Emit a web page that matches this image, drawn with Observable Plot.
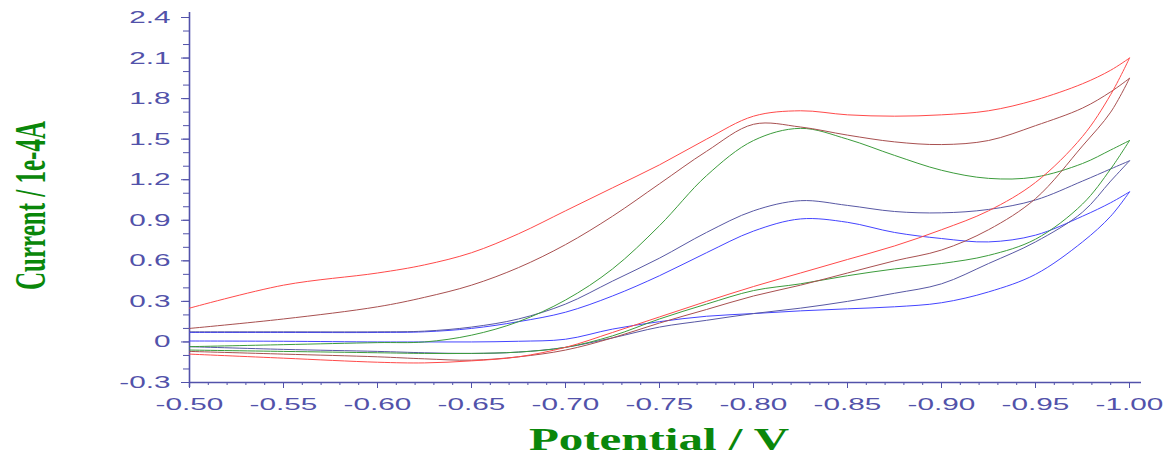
<!DOCTYPE html>
<html>
<head>
<meta charset="utf-8">
<script src="https://cdn.jsdelivr.net/npm/d3@7"></script>
<script src="https://cdn.jsdelivr.net/npm/@observablehq/plot@0.6"></script>
<style>
  body { margin: 0; background: #fff; }
  #chart svg { display: block; }
</style>
</head>
<body>
<div id="chart"></div>
<script>
// Potential grid (V) shared by every scan, from the start of the sweep to the switching potential
const potential = [-0.50, -0.55, -0.60, -0.625, -0.65, -0.675, -0.70, -0.725, -0.75, -0.775,
                   -0.80, -0.825, -0.85, -0.875, -0.90, -0.925, -0.95, -0.975, -0.99, -1.00];

// Current (1e-4 A): forward sweep (towards -1.00 V) and return sweep, both listed on the grid above
const scanAForward = [0.25, 0.42, 0.51, 0.57, 0.66, 0.80, 0.97, 1.14, 1.31, 1.50, 1.67, 1.71, 1.68, 1.67, 1.68, 1.71, 1.79, 1.91, 2.01, 2.10];
const scanAReturn  = [-0.09, -0.12, -0.15, -0.155, -0.14, -0.11, -0.04, 0.07, 0.185, 0.30, 0.41, 0.51, 0.61, 0.71, 0.83, 0.97, 1.18, 1.52, 1.83, 2.10];

const scanBForward = [0.10, 0.17, 0.26, 0.33, 0.42, 0.55, 0.72, 0.93, 1.17, 1.41, 1.61, 1.59, 1.53, 1.48, 1.46, 1.49, 1.60, 1.73, 1.85, 1.95];
const scanBReturn  = [-0.07, -0.09, -0.11, -0.125, -0.135, -0.11, -0.06, 0.03, 0.14, 0.24, 0.34, 0.42, 0.51, 0.60, 0.68, 0.83, 1.06, 1.45, 1.70, 1.95];

const scanCForward = [-0.035, -0.02, -0.005, 0.00, 0.05, 0.15, 0.31, 0.54, 0.86, 1.23, 1.49, 1.58, 1.50, 1.38, 1.27, 1.21, 1.22, 1.32, 1.42, 1.49];
const scanCReturn  = [-0.06, -0.07, -0.08, -0.085, -0.085, -0.075, -0.04, 0.045, 0.17, 0.28, 0.38, 0.43, 0.49, 0.54, 0.58, 0.64, 0.76, 1.02, 1.28, 1.49];

const scanDForward = [0.075, 0.075, 0.075, 0.08, 0.11, 0.17, 0.28, 0.45, 0.62, 0.81, 0.97, 1.045, 1.01, 0.965, 0.955, 0.98, 1.05, 1.19, 1.28, 1.34];
const scanDReturn  = [-0.035, -0.055, -0.07, -0.08, -0.085, -0.075, -0.04, 0.03, 0.11, 0.16, 0.21, 0.25, 0.30, 0.36, 0.43, 0.58, 0.74, 0.96, 1.19, 1.34];

const scanEForward = [0.07, 0.07, 0.07, 0.075, 0.10, 0.15, 0.22, 0.34, 0.49, 0.66, 0.82, 0.91, 0.885, 0.81, 0.765, 0.74, 0.79, 0.93, 1.03, 1.11];
const scanEReturn  = [0.007, 0.005, 0.0, 0.0, 0.0, 0.005, 0.02, 0.095, 0.15, 0.19, 0.21, 0.23, 0.245, 0.26, 0.29, 0.37, 0.50, 0.74, 0.93, 1.11];

const scanNames = ["E", "D", "C", "B", "A"];

// Axis ticks
const xTickValues = [-0.50, -0.55, -0.60, -0.65, -0.70, -0.75, -0.80, -0.85, -0.90, -0.95, -1.00];
const xTickLabels = ["-0.50", "-0.55", "-0.60", "-0.65", "-0.70", "-0.75", "-0.80", "-0.85", "-0.90", "-0.95", "-1.00"];
const yTickValues = [-0.3, 0, 0.3, 0.6, 0.9, 1.2, 1.5, 1.8, 2.1, 2.4];
const yTickLabels = ["-0.3", "0", "0.3", "0.6", "0.9", "1.2", "1.5", "1.8", "2.1", "2.4"];
const xMinorTicks = d3.range(50, 101).map(k => -k / 100);
const yMinorTicks = d3.range(-3, 25).map(k => k / 10);

const xTitle = "Potential / V";
const yTitle = "Current / 1e-4A";

// Styling
const scanColors = {A: "#ff4a4a", B: "#a85050", C: "#3c9c3c", D: "#5858a4", E: "#4444ff"};
const axisColor = "#5252aa";
const titleColor = "#0a870a";
const stretch = 1.75; // horizontal stretch of the axis lettering

// Each scan is drawn as two branches (forward and return) that meet at -1.00 V
const scans = {
  A: [scanAForward, scanAReturn],
  B: [scanBForward, scanBReturn],
  C: [scanCForward, scanCReturn],
  D: [scanDForward, scanDReturn],
  E: [scanEForward, scanEReturn]
};
const rows = scanNames.flatMap(name => {
  const [fwd, ret] = scans[name];
  const branch = (values, tag) =>
    potential.map((p, i) => ({scan: name, branch: name + tag, potential: p, current: values[i]}));
  return branch(fwd, "-forward").concat(branch(ret, "-return"));
});

const width = 1170, height = 459;
const margin = {top: 17, right: 41, bottom: 77, left: 189};

const svg = Plot.plot({
  width, height,
  marginTop: margin.top, marginRight: margin.right, marginBottom: margin.bottom, marginLeft: margin.left,
  style: {fontFamily: "'Liberation Sans', Arial, sans-serif", fontSize: "17px", background: "#fff", overflow: "visible"},
  x: {domain: [-0.5, -1.0]},
  y: {domain: [-0.3, 2.4]},
  color: {domain: scanNames, range: scanNames.map(n => scanColors[n])},
  marks: [
    Plot.axisY(yMinorTicks, {tickSize: 6, tickFormat: () => "", stroke: axisColor, label: null}),
    Plot.axisY(yTickValues, {tickSize: 8, tickPadding: 11, stroke: axisColor, fill: axisColor, label: null,
      tickFormat: d => yTickLabels[yTickValues.findIndex(v => Math.abs(v - d) < 1e-9)]}),
    Plot.axisX(xMinorTicks, {tickSize: 3, tickFormat: () => "", stroke: axisColor, label: null}),
    Plot.axisX(xTickValues, {tickSize: 6, tickPadding: 9, stroke: axisColor, fill: axisColor, label: null,
      tickFormat: d => xTickLabels[xTickValues.findIndex(v => Math.abs(v - d) < 1e-9)]}),
    Plot.ruleX([-0.5], {stroke: axisColor, strokeWidth: 1.6, insetTop: -5, insetBottom: -5}),
    Plot.ruleY([-0.3], {stroke: axisColor, strokeWidth: 1.6, insetRight: -12}),
    Plot.line(rows, {x: "potential", y: "current", z: "branch", stroke: "scan", strokeWidth: 1, curve: "catmull-rom"})
  ]
});

// Wide lettering for the tick labels
d3.select(svg)
  .selectAll('g[aria-label="y-axis tick label"] text, g[aria-label="x-axis tick label"] text')
  .each(function () {
    const t = this.getAttribute("transform");
    if (t) {
      this.setAttribute("transform", `${t} scale(${stretch},1)`);
    } else {
      const x = +(this.getAttribute("x") || 0), y = +(this.getAttribute("y") || 0);
      this.removeAttribute("x"); this.removeAttribute("y");
      this.setAttribute("transform", `translate(${x},${y}) scale(${stretch},1)`);
    }
  });

// Axis titles
const cx = margin.left + (width - margin.left - margin.right) / 2;
const cy = margin.top + (height - margin.top - margin.bottom) / 2;
d3.select(svg).append("text")
  .attr("transform", `translate(${cx},450) scale(1.58,1)`)
  .attr("text-anchor", "middle")
  .attr("font-family", "'Liberation Serif', 'Times New Roman', serif")
  .attr("font-weight", "bold")
  .attr("font-size", 31)
  .attr("fill", titleColor)
  .text(xTitle);
d3.select(svg).append("text")
  .attr("transform", `translate(45,${cy + 6}) scale(${stretch},1) rotate(-90)`)
  .attr("text-anchor", "middle")
  .attr("font-family", "'Liberation Serif', 'Times New Roman', serif")
  .attr("font-weight", "bold")
  .attr("font-size", 25)
  .attr("fill", titleColor)
  .text(yTitle);

document.getElementById("chart").appendChild(svg);
</script>
</body>
</html>
